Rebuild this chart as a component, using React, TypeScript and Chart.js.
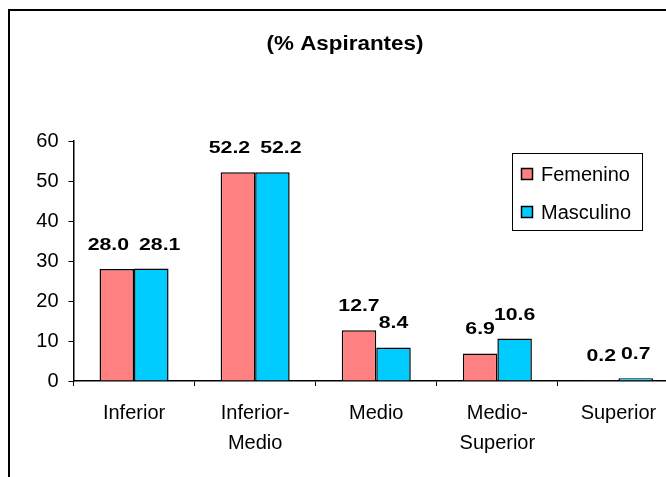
import React, { useEffect, useRef } from "react";
import { Chart, registerables } from "chart.js";

Chart.register(...registerables);

const categories: (string | string[])[] = [
  "Inferior",
  ["Inferior-", "Medio"],
  "Medio",
  ["Medio-", "Superior"],
  "Superior",
];
const femenino = [28.0, 52.2, 12.7, 6.9, 0.2];
const masculino = [28.1, 52.2, 8.4, 10.6, 0.7];
const seriesNames = ["Femenino", "Masculino"];
const seriesColors = ["#FF8080", "#00CCFF"];
const yTicks = [0, 10, 20, 30, 40, 50, 60];
const titleText = "(% Aspirantes)";

const FONT = "'Liberation Sans', Arial, Helvetica, sans-serif";

const framePlugin = {
  id: "frame",
  beforeDraw(chart: any) {
    const ctx = chart.ctx;
    ctx.save();
    ctx.fillStyle = "#ffffff";
    ctx.fillRect(0, 0, chart.width, chart.height);
    ctx.strokeStyle = "#000000";
    ctx.lineWidth = 2;
    ctx.strokeRect(9, 10, 720, 520);
    ctx.restore();
  },
};

const titlePlugin = {
  id: "titleStretch",
  afterDraw(chart: any) {
    const ctx = chart.ctx;
    ctx.save();
    ctx.fillStyle = "#000";
    ctx.font = `bold 20px ${FONT}`;
    ctx.textAlign = "center";
    ctx.textBaseline = "middle";
    ctx.translate(345, 44);
    ctx.scale(1.12, 1);
    ctx.fillText(titleText, 0, 0);
    ctx.restore();
  },
};

const legendPlugin = {
  id: "boxLegend",
  afterDraw(chart: any) {
    const ctx = chart.ctx;
    ctx.save();
    ctx.strokeStyle = "#000";
    ctx.lineWidth = 1;
    ctx.strokeRect(512.5, 153.5, 130, 77);
    ctx.font = `20px ${FONT}`;
    ctx.textBaseline = "middle";
    ctx.textAlign = "left";
    const rows = [174, 212];
    chart.data.datasets.forEach((ds: any, i: number) => {
      const cy = rows[i];
      ctx.fillStyle = ds.backgroundColor;
      ctx.fillRect(521.5, cy - 5.5, 11, 11);
      ctx.lineWidth = 1.5;
      ctx.strokeRect(521.5, cy - 5.5, 11, 11);
      ctx.fillStyle = "#000";
      ctx.fillText(ds.label, 541, cy + 1);
    });
    ctx.restore();
  },
};

const valueLabelPlugin = {
  id: "valueLabels",
  afterDatasetsDraw(chart: any) {
    const ctx = chart.ctx;
    const sx = 1.25;
    ctx.save();
    ctx.font = `bold 17px ${FONT}`;
    ctx.fillStyle = "#000";
    ctx.textAlign = "center";
    ctx.textBaseline = "alphabetic";
    const n = chart.data.labels.length;
    for (let i = 0; i < n; i++) {
      const items: any[] = [];
      chart.data.datasets.forEach((ds: any, d: number) => {
        const el = chart.getDatasetMeta(d).data[i];
        const text = Number(ds.data[i]).toFixed(1);
        const w = ctx.measureText(text).width * sx;
        items.push({ x: el.x, y: el.y - 19, text, w });
      });
      if (items.length === 2) {
        const [a, b] = items;
        const gap = b.x - b.w / 2 - (a.x + a.w / 2);
        if (Math.abs(a.y - b.y) < 10 && gap < 4) {
          const need = a.w / 2 + b.w / 2 + 10;
          const mid = (a.x + b.x) / 2;
          a.x = mid - need / 2;
          b.x = mid + need / 2;
        }
      }
      items.forEach((it) => {
        ctx.save();
        ctx.translate(it.x, it.y);
        ctx.scale(sx, 1);
        ctx.fillText(it.text, 0, 0);
        ctx.restore();
      });
    }
    ctx.restore();
  },
};

export default function App() {
  const ref = useRef<HTMLCanvasElement | null>(null);
  useEffect(() => {
    if (!ref.current) return;
    const chart = new Chart(ref.current, {
      type: "bar",
      data: {
        labels: categories,
        datasets: [
          {
            label: seriesNames[0],
            data: femenino,
            backgroundColor: seriesColors[0],
            borderColor: "#000",
            borderWidth: 1.5,
            barPercentage: 1,
            categoryPercentage: 0.57,
          },
          {
            label: seriesNames[1],
            data: masculino,
            backgroundColor: seriesColors[1],
            borderColor: "#000",
            borderWidth: 1.5,
            barPercentage: 1,
            categoryPercentage: 0.57,
          },
        ],
      },
      options: {
        responsive: false,
        animation: false,
        devicePixelRatio: 1,
        layout: { padding: { left: 0, top: 141, right: 21, bottom: 0 } },
        plugins: {
          legend: { display: false },
          title: { display: false },
          tooltip: { enabled: false },
        },
        scales: {
          x: {
            grid: {
              display: true,
              drawOnChartArea: false,
              drawTicks: true,
              tickLength: 5,
              color: "#000",
              offset: true,
            },
            border: { display: true, color: "#000", width: 1.5 },
            ticks: {
              color: "#000",
              font: { family: FONT, size: 20, lineHeight: 1.5 },
              padding: 12,
              maxRotation: 0,
              autoSkip: false,
            },
            afterFit(scale: any) {
              scale.height = 96;
            },
          },
          y: {
            min: 0,
            max: 60,
            afterBuildTicks(scale: any) {
              scale.ticks = yTicks.map((v) => ({ value: v }));
            },
            grid: {
              display: true,
              drawOnChartArea: false,
              drawTicks: true,
              tickLength: 5,
              color: "#000",
            },
            border: { display: true, color: "#000", width: 1.5 },
            ticks: {
              color: "#000",
              font: { family: FONT, size: 20 },
              padding: 10,
            },
            afterFit(scale: any) {
              scale.width = 73.5;
            },
          },
        },
      },
      plugins: [framePlugin, valueLabelPlugin, legendPlugin, titlePlugin],
    });
    return () => chart.destroy();
  }, []);

  return (
    <div
      style={{
        position: "absolute",
        left: 0,
        top: 0,
        width: 666,
        height: 477,
        overflow: "hidden",
        background: "#fff",
      }}
    >
      <canvas ref={ref} width={700} height={477} style={{ display: "block" }} />
    </div>
  );
}
